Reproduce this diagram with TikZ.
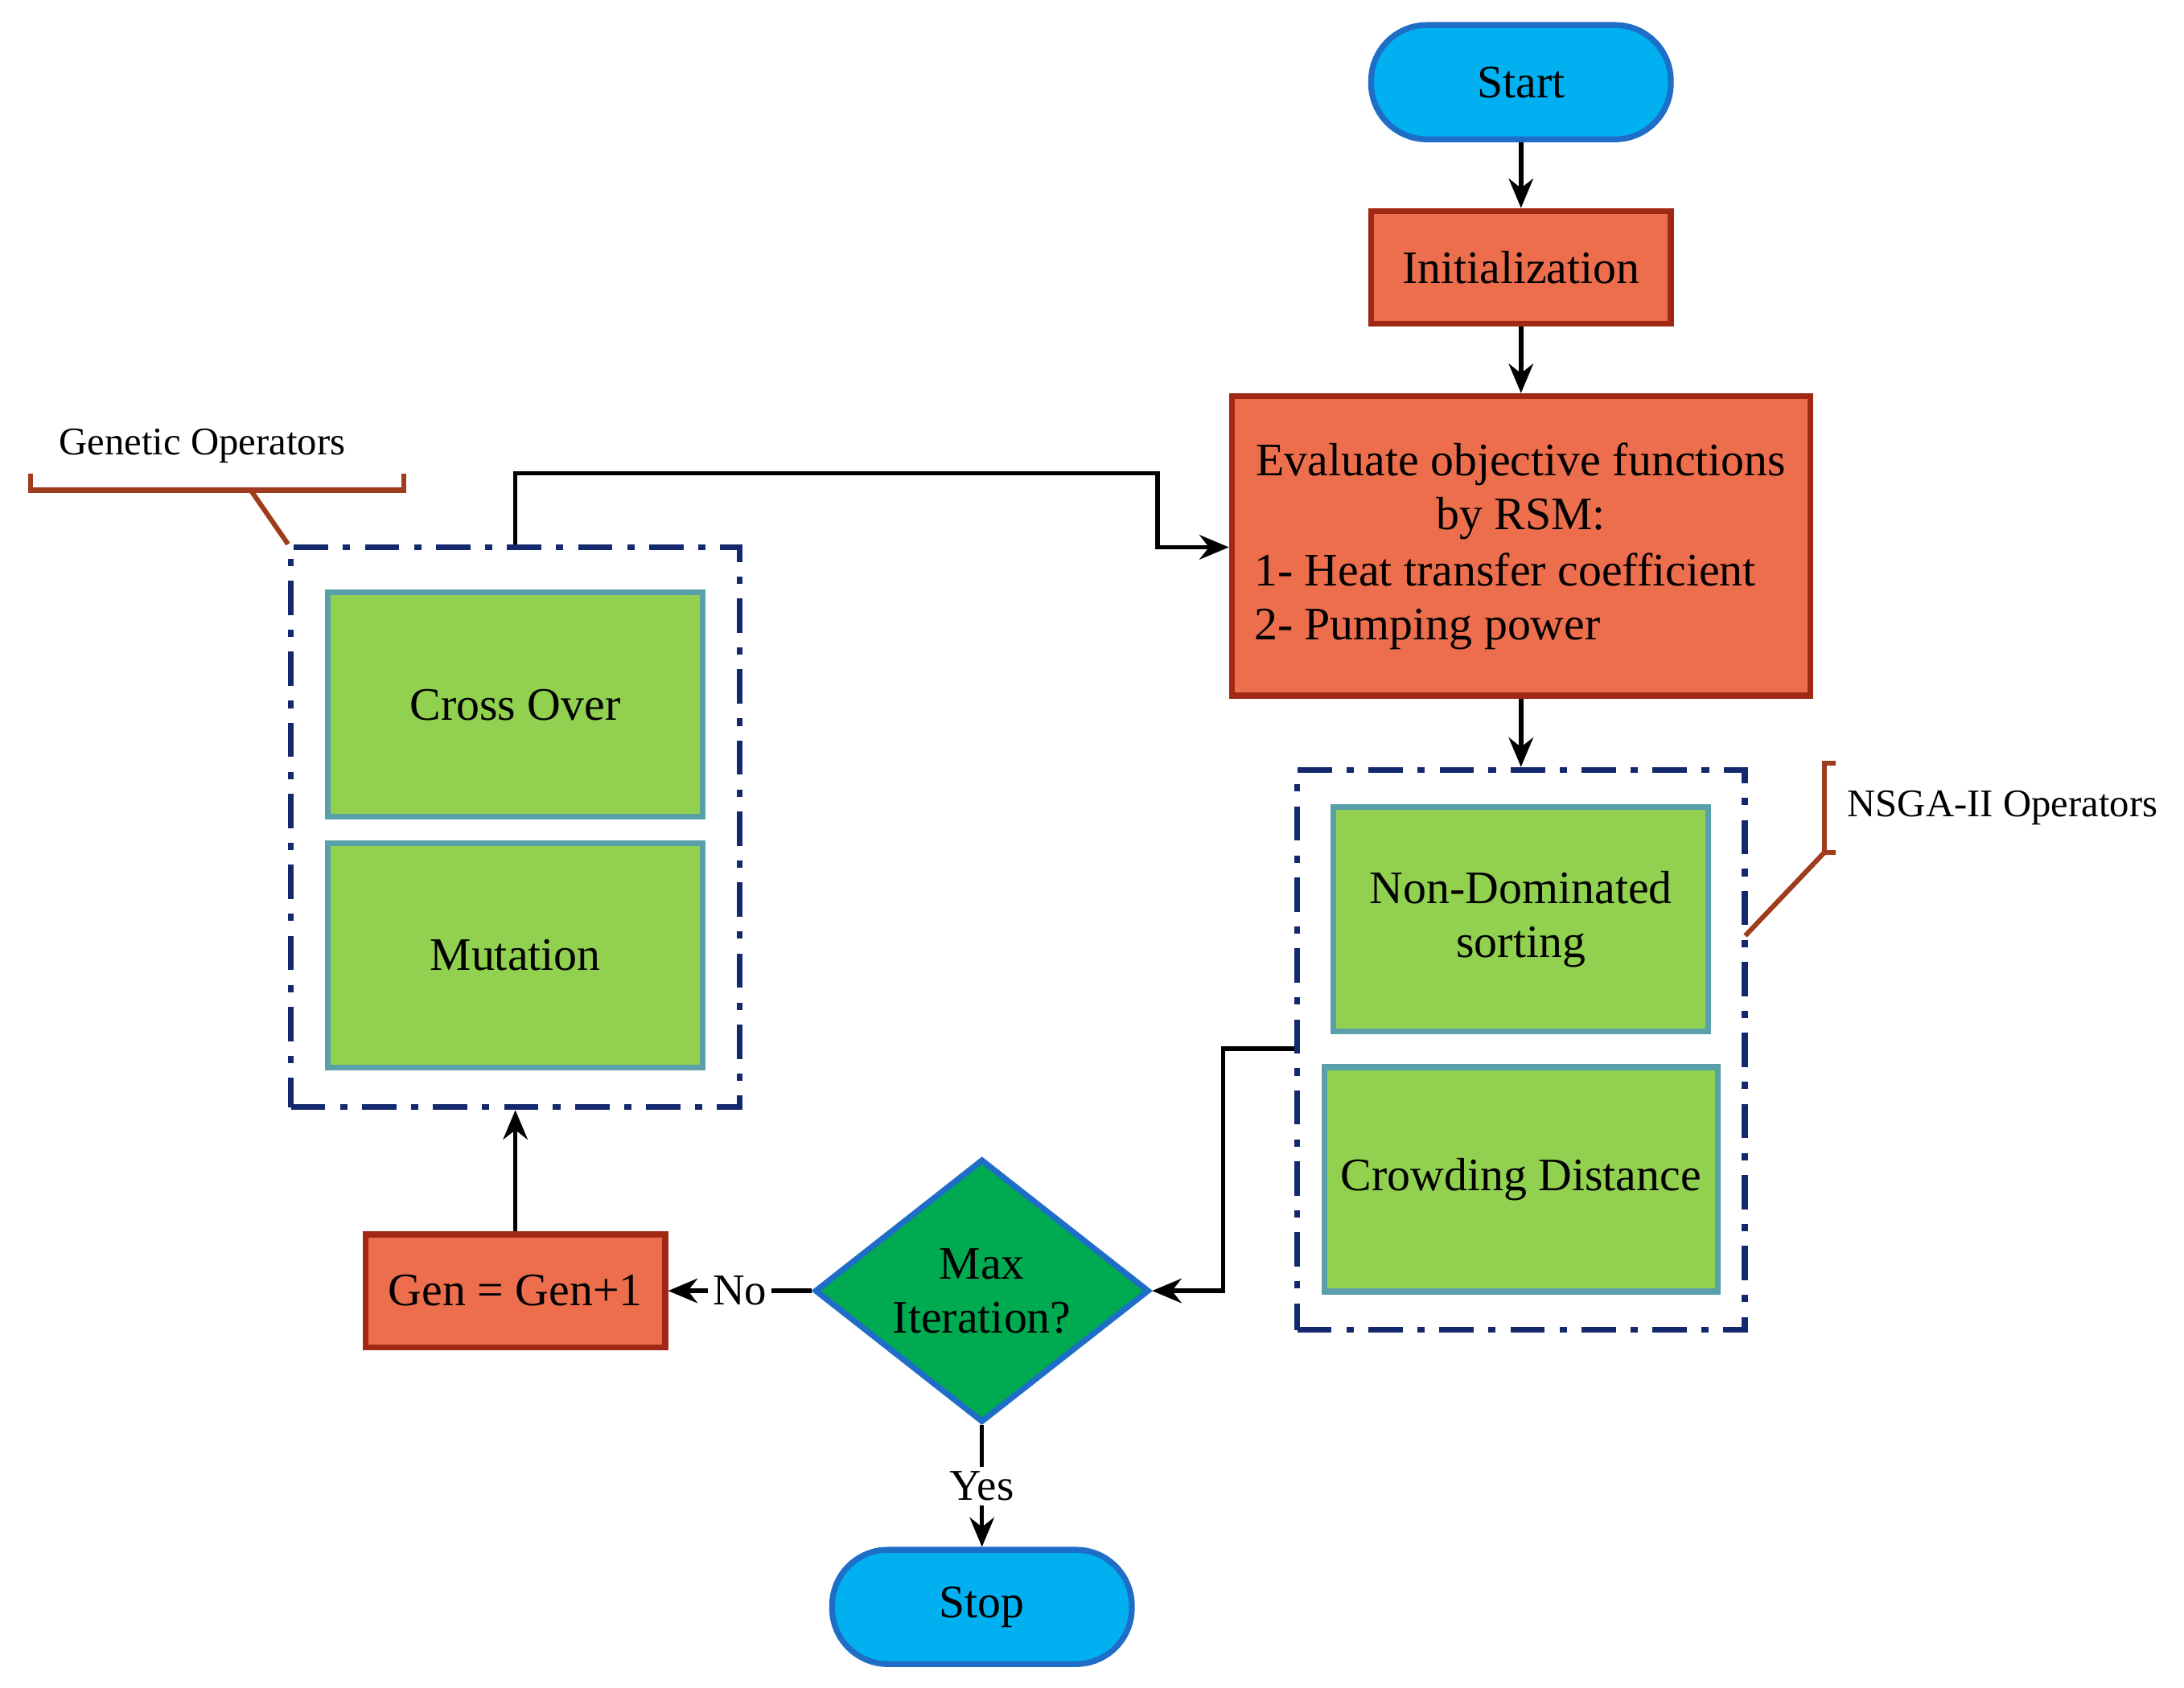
\documentclass[tikz,border=0pt]{standalone}
\usepackage{fontspec}
\setmainfont{Liberation Serif}
\usetikzlibrary{shapes.geometric,arrows.meta}
\definecolor{cy}{RGB}{0,176,240}
\definecolor{cyb}{RGB}{30,110,200}
\definecolor{og}{RGB}{236,110,76}
\definecolor{ogb}{RGB}{160,40,20}
\definecolor{gr}{RGB}{146,208,80}
\definecolor{grb}{RGB}{90,160,170}
\definecolor{dg}{RGB}{0,170,80}
\definecolor{nv}{RGB}{20,40,110}
\definecolor{br}{RGB}{160,60,30}
\begin{document}
\begin{tikzpicture}[x=0.01cm,y=-0.01cm,
 term/.style={rounded corners=0.4cm,fill=cy,draw=cyb,line width=1.2pt,minimum width=2.15cm,minimum height=0.82cm,font=\fontsize{9.5}{11}\selectfont},
 proc/.style={fill=og,draw=ogb,line width=1.2pt,font=\fontsize{9.5}{11}\selectfont},
 op/.style={fill=gr,draw=grb,line width=1.2pt,minimum width=2.69cm,minimum height=1.61cm,align=center,font=\fontsize{9.5}{11}\selectfont},
 grp/.style={draw=nv,line width=1.2pt,dash pattern=on 7pt off 3pt on 1.5pt off 3pt},
 arr/.style={-{Stealth[length=6pt,width=5pt]},line width=0.9pt},
 lbl/.style={font=\fontsize{8}{9}\selectfont}]
\useasboundingbox (0,0) rectangle (1568,1212);
\node[term] (start) at (1092,59) {Start};
\node[proc,minimum width=2.15cm,minimum height=0.81cm] (init) at (1092,192) {Initialization};
\node[proc,minimum width=4.15cm,minimum height=2.15cm] (eval) at (1092,392) {};
\node[align=center,font=\fontsize{9.5}{11}\selectfont] (evt) at (1092,353) {Evaluate objective functions\\by RSM:};
\node[anchor=west,align=left,font=\fontsize{9.5}{11}\selectfont] (evl) at (888,432) {1- Heat transfer coefficient\\2- Pumping power};
\node[grp,minimum width=3.21cm,minimum height=4.02cm] (nsga) at (1092,754) {};
\node[op] (nds) at (1092,660) {Non-Dominated\\sorting};
\node[op] (crowd) at (1092,847) {Crowding Distance};
\node[grp,minimum width=3.22cm,minimum height=4.02cm] (gen) at (370,594) {};
\node[op] (co) at (370,506) {Cross Over};
\node[op] (mut) at (370,686) {Mutation};
\node[diamond,fill=dg,draw=cyb,line width=1.2pt,minimum width=2.4cm,minimum height=1.6cm,inner sep=0pt,align=center,font=\fontsize{9.5}{11}\selectfont] (dec) at (705,927) {Max\\Iteration?};
\node[proc,minimum width=2.15cm,minimum height=0.81cm] (inc) at (370,927) {Gen = Gen+1};
\node[term] (stop) at (705,1154) {Stop};
\draw[arr] (start) -- (init);
\draw[arr] (init) -- (eval);
\draw[arr] (eval) -- (nsga);
\draw[arr] (gen.north) -- (370,340) -- (831,340) -- (831,393) -- (eval.west|-0,393);
\draw[arr] (nsga.west|-0,753) -- (878,753) -- (878,927) -- (dec.east);
\draw[arr] (dec.west) -- node[fill=white,inner sep=1pt,font=\fontsize{9}{10}\selectfont]{No} (inc.east);
\draw[arr] (inc) -- (gen);
\draw[arr] (dec.south) -- node[fill=white,inner sep=1pt,font=\fontsize{9}{10}\selectfont]{Yes} (stop);
% labels
\node[lbl,anchor=west] (gol) at (30,320) {Genetic Operators};
\draw[br,line width=1pt] (22,340) -- (22,352) -- (290,352) -- (290,340);
\draw[br,line width=1pt] (180,352) -- (gen.north west);
\node[lbl,anchor=west] (nol) at (1314,580) {NSGA-II Operators};
\draw[br,line width=1pt] (1318,548) -- (1310,548) -- (1310,612) -- (1318,612);
\draw[br,line width=1pt] (1310,612) -- (1253,672);
\end{tikzpicture}
\end{document}
